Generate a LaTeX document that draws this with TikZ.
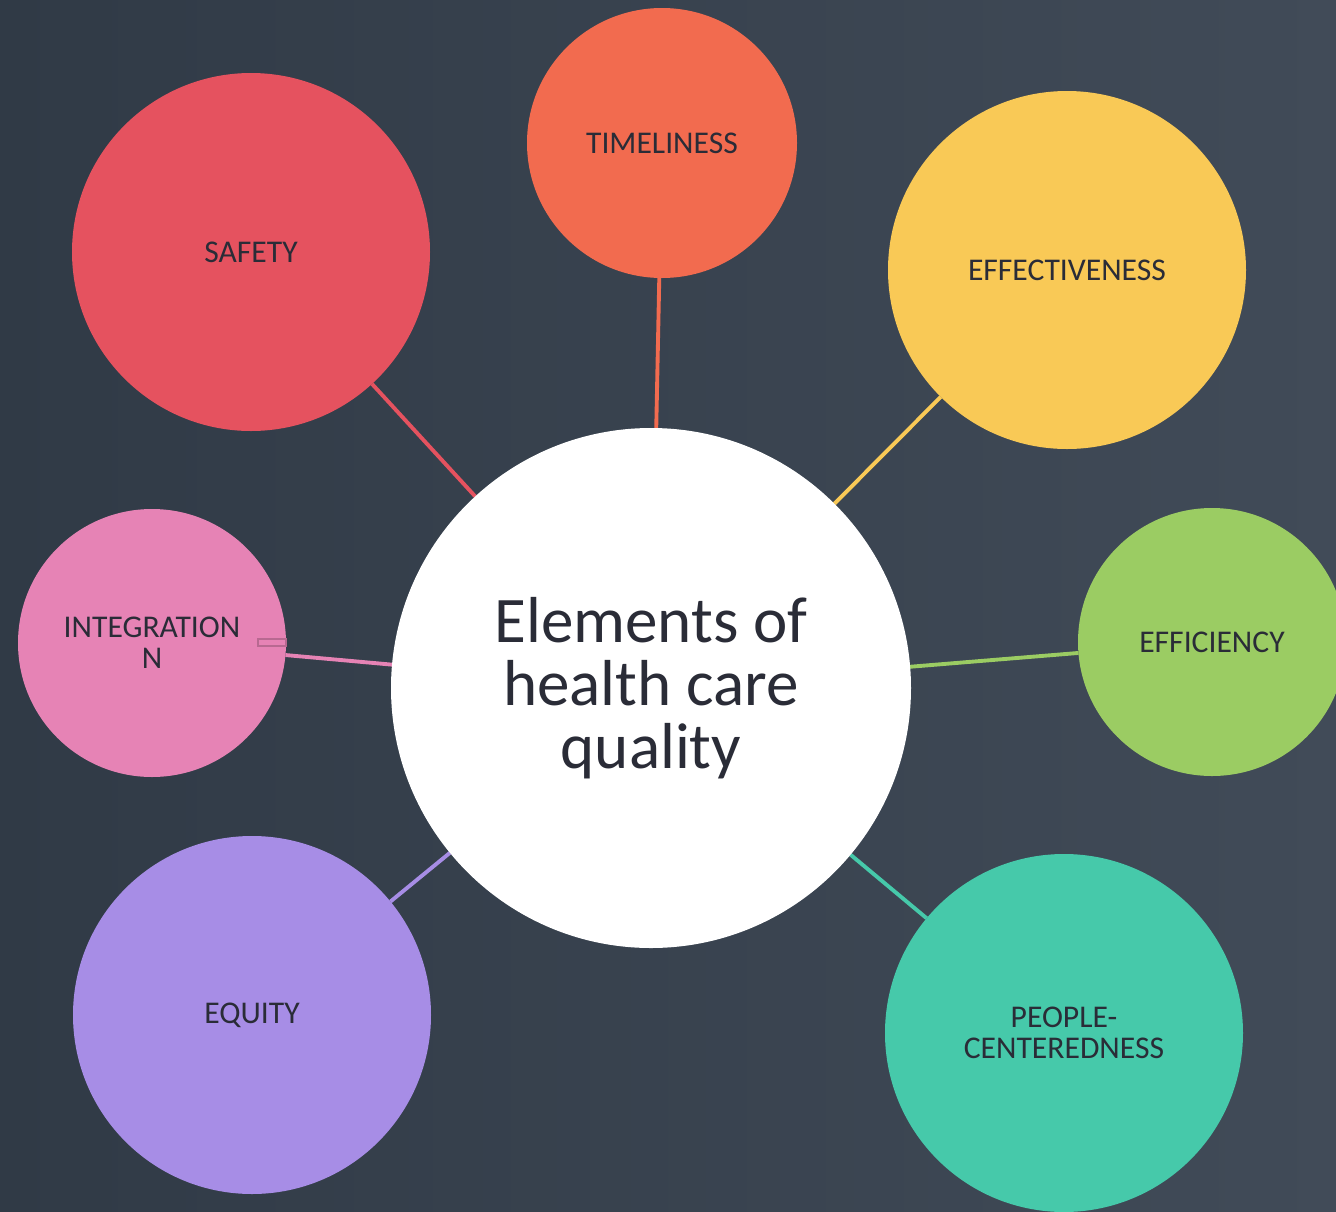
\documentclass[tikz,border=0pt]{standalone}
\usepackage{fontspec}
\setmainfont{Carlito}
\usetikzlibrary{backgrounds}
\definecolor{bgleft}{HTML}{303A46}
\definecolor{bgright}{HTML}{414B58}
\definecolor{ink}{HTML}{2A2C37}
\definecolor{safetyc}{HTML}{E5525F}
\definecolor{timec}{HTML}{F26B4F}
\definecolor{effectc}{HTML}{F9C956}
\definecolor{efficc}{HTML}{9BCC63}
\definecolor{integc}{HTML}{E683B5}
\definecolor{equityc}{HTML}{A78DE6}
\definecolor{peoplec}{HTML}{46C9AA}

\begin{document}
\begin{tikzpicture}[every node/.style={font=\fontsize{9}{8.8}\selectfont,text=ink,align=center},
  bubble/.style={circle,inner sep=0pt,outer sep=0pt},
  link/.style={line width=1.1pt}]
\useasboundingbox (0,0) rectangle (13.36,-12.12);
\clip (0,0) rectangle (13.36,-12.12);
\node[bubble,fill=white,minimum size=5.20cm,font=\fontsize{18.5}{17.9}\selectfont] (hub) at (6.51,-6.88) {Elements of\\health care\\quality};
\node[bubble,fill=safetyc,minimum size=3.58cm] (safety) at (2.51,-2.52) {SAFETY};
\node[bubble,fill=timec,minimum size=2.70cm] (time) at (6.62,-1.43) {TIMELINESS};
\node[bubble,fill=effectc,minimum size=3.58cm] (effect) at (10.67,-2.70) {EFFECTIVENESS};
\node[bubble,fill=efficc,minimum size=2.68cm] (effic) at (12.12,-6.42) {EFFICIENCY};
\node[bubble,fill=integc,minimum size=2.68cm] (integ) at (1.52,-6.43) {INTEGRATION\\N};
\node[bubble,fill=equityc,minimum size=3.58cm] (equity) at (2.52,-10.15) {EQUITY};
\node[bubble,fill=peoplec,minimum size=3.58cm] (people) at (10.64,-10.33) {PEOPLE-\\CENTEREDNESS};
\draw[integc!80!black,line width=0.3pt] (2.58,-6.39) rectangle (2.86,-6.46);
\begin{pgfonlayer}{background}
\shade[left color=bgleft,right color=bgright] (0,0) rectangle (13.36,-12.12);
\draw[link,safetyc] (safety)--(hub);
\draw[link,timec] (time)--(hub);
\draw[link,effectc] (effect)--(hub);
\draw[link,efficc] (effic)--(hub);
\draw[link,integc] (integ)--(hub);
\draw[link,equityc] (equity)--(hub);
\draw[link,peoplec] (people)--(hub);
\end{pgfonlayer}
\end{tikzpicture}
\end{document}
